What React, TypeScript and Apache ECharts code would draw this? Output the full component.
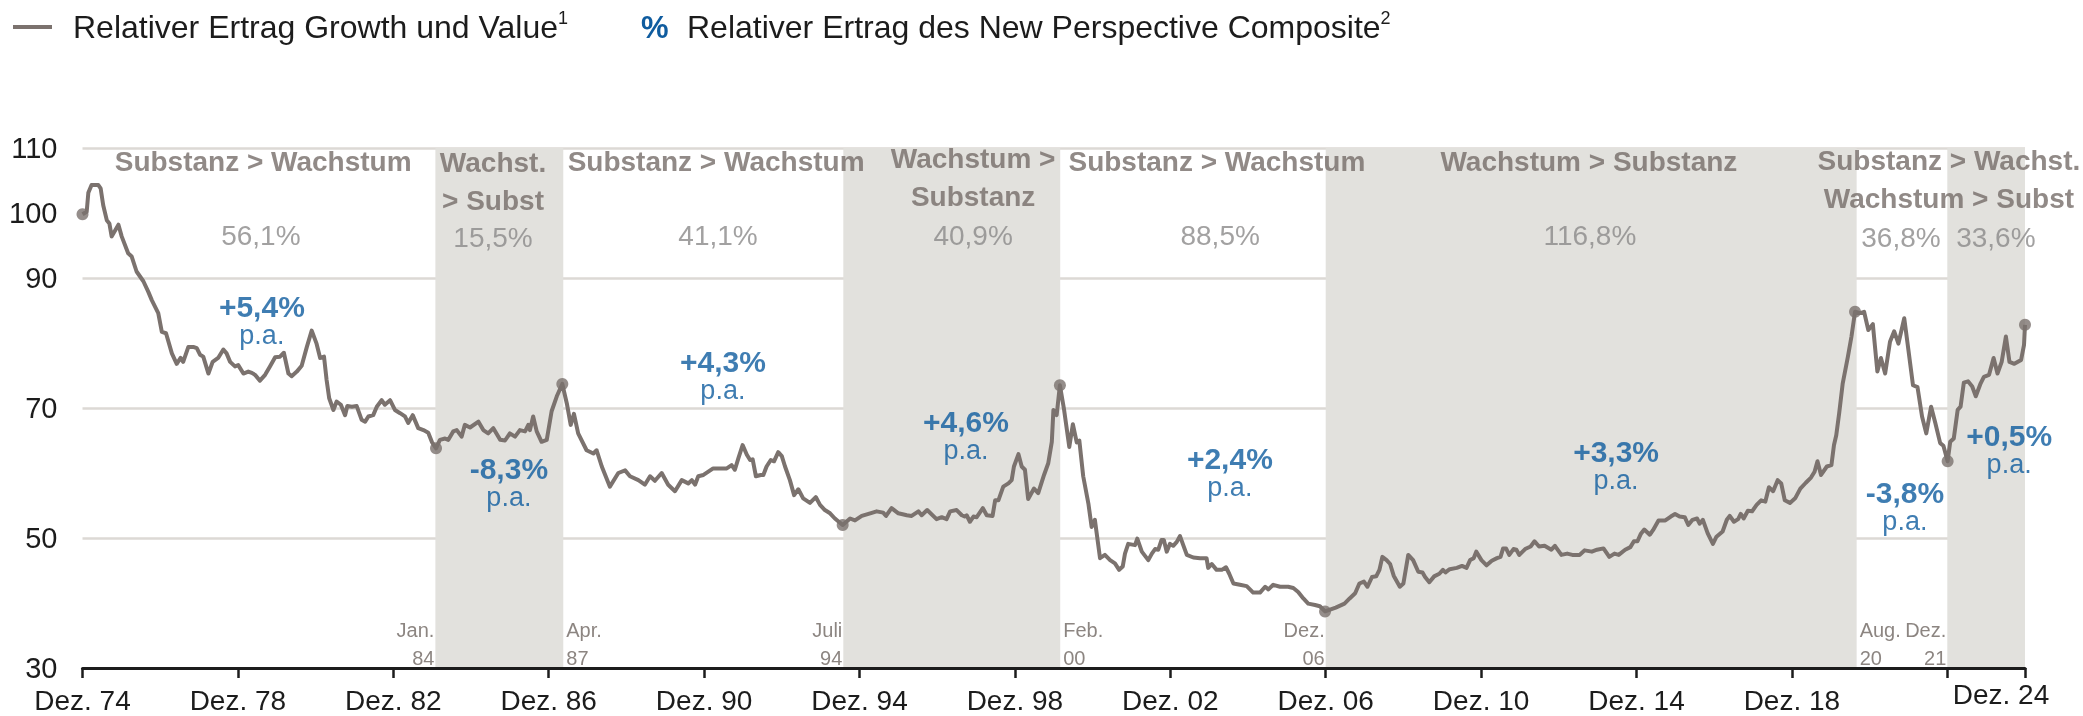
import React, { useEffect, useRef } from "react";
import * as echarts from "echarts";

const FONT = "'Liberation Sans', Arial, Helvetica, sans-serif";
const LINE = "#7b726e";
const SHADE = "#e2e1dd";
const GRIDC = "#dcd9d5";
const BLUE = "#0f5c9f";
const TAUPE = "#766d69";
const PCTGRAY = "#8b8989";
const INK = "#1c1c1c";

// x = months since Dez. 1974, y = relative return Growth vs Value (start = 100)
const seg1Months = [0, 1.3, 1.8, 2.8, 4.9, 5.6, 6.4, 7.5, 8.3, 9.0, 11.1, 12.1, 14.1, 15.2, 16.7, 18.8, 20.3, 21.4, 23.4, 24.5, 25.8, 27.6, 29.1, 30.3, 31.1, 32.7, 34.2, 35.3, 36.3, 37.3, 38.9, 40.2, 41.9, 43.5, 44.5, 45.6, 47.1, 48.1, 49.7, 51.2, 52.3, 53.3, 54.8, 56.4, 57.9, 59.5, 61.0, 62.2, 63.6, 64.6, 66.2, 67.7, 69.3, 70.8, 72.3, 73.4, 74.6, 75.4, 76.2, 77.5, 78.5, 79.8, 81.1, 81.8, 83.2, 84.7, 86.2, 87.3, 88.3, 89.8, 90.9, 92.4, 93.4, 95.0, 96.5, 98.1, 99.6, 100.6, 102.0, 103.7, 105.3, 106.8, 107.9, 109.2];
const seg1Values = [99.8, 100.2, 103.1, 104.3, 104.3, 103.8, 101.2, 98.9, 98.4, 96.4, 98.2, 96.4, 93.8, 93.3, 91.0, 89.5, 87.9, 86.6, 84.6, 81.7, 81.5, 78.4, 76.8, 77.7, 77.1, 79.4, 79.4, 79.2, 78.2, 77.9, 75.3, 77.1, 77.7, 79.0, 78.4, 77.1, 76.4, 76.6, 75.3, 75.6, 75.4, 75.1, 74.2, 75.1, 76.4, 77.8, 77.9, 78.5, 75.3, 74.9, 75.6, 76.5, 79.4, 81.9, 79.9, 77.7, 77.9, 74.3, 71.5, 69.7, 71.0, 70.5, 68.9, 70.3, 70.2, 70.3, 68.2, 67.9, 68.7, 68.9, 70.2, 71.2, 70.5, 71.2, 69.7, 69.2, 68.7, 67.7, 68.9, 66.9, 66.6, 66.2, 64.8, 63.8];

const seg2Months = [110.4, 112.0, 113.0, 114.5, 115.6, 117.1, 118.1, 119.7, 122.3, 123.8, 125.3, 126.9, 129.0, 130.5, 132.0, 133.6, 135.1, 136.7, 137.7, 138.2, 139.2, 140.3, 141.8, 143.4, 144.9, 146.5, 148.2];
const seg2Values = [65.1, 65.3, 65.1, 66.4, 66.6, 65.6, 67.4, 67.0, 67.9, 66.6, 66.1, 66.9, 65.1, 65.0, 66.1, 65.6, 66.6, 66.4, 67.4, 66.6, 68.7, 66.4, 64.8, 65.1, 69.5, 71.8, 73.7];

const seg3Months = [149.6, 150.8, 151.8, 153.1, 155.7, 157.8, 158.8, 160.4, 162.9, 165.5, 167.6, 169.1, 171.7, 173.7, 175.3, 176.8, 178.9, 180.9, 183.0, 185.1, 187.1, 188.2, 189.2, 190.2, 191.8, 193.3, 194.8, 196.9, 199.0, 200.5, 201.5, 202.6, 203.9, 205.2, 206.2, 207.0, 208.0, 209.5, 210.3, 211.3, 212.6, 213.6, 214.9, 216.0, 217.0, 218.5, 219.8, 221.1, 222.6, 224.7, 226.5, 227.8, 229.3, 230.9, 232.4, 234.8];
const seg3Values = [70.7, 67.4, 69.1, 66.1, 63.5, 63.0, 63.5, 61.0, 57.9, 60.0, 60.4, 59.5, 58.9, 58.2, 59.5, 58.8, 60.0, 58.2, 57.2, 58.9, 58.4, 58.9, 58.2, 59.5, 59.7, 60.2, 60.7, 60.7, 60.7, 61.2, 60.5, 62.3, 64.3, 62.8, 62.0, 62.1, 59.5, 59.7, 59.7, 61.0, 62.0, 61.8, 63.2, 62.6, 61.0, 58.9, 56.6, 57.5, 56.1, 55.4, 56.3, 55.1, 54.3, 53.8, 53.0, 52.0];

const seg4Months = [237.1, 238.6, 240.7, 243.3, 245.3, 247.3, 248.2, 249.9, 252.0, 254.6, 256.1, 258.2, 259.2, 260.9, 263.8, 265.4, 266.9, 268.0, 270.0, 271.6, 272.6, 273.1, 274.1, 275.2, 276.2, 278.1, 279.3, 281.1, 281.9, 282.9, 284.4, 286.0, 287.0, 287.7, 289.1, 290.1, 291.1, 292.1, 293.9, 295.2, 297.0, 298.3, 299.4, 299.9, 300.9, 301.9];
const seg4Values = [53.0, 52.7, 53.4, 53.8, 54.1, 53.9, 53.4, 54.6, 53.8, 53.5, 53.4, 54.1, 53.5, 54.3, 52.9, 53.2, 52.9, 54.1, 54.3, 53.5, 53.3, 53.5, 52.5, 53.3, 53.2, 54.6, 53.5, 53.4, 55.8, 55.8, 57.9, 58.4, 58.9, 61.0, 62.9, 61.0, 60.5, 56.0, 57.6, 56.9, 59.7, 61.5, 64.8, 69.7, 68.9, 73.5];

const seg5Months = [303.2, 304.8, 305.9, 307.1, 307.9, 309.1, 310.7, 311.7, 312.7, 314.3, 315.8, 317.4, 318.9, 320.2, 321.3, 322.0, 323.0, 325.1, 325.8, 327.2, 329.2, 330.3, 331.3, 332.3, 333.3, 334.0, 334.9, 335.9, 336.9, 338.0, 339.0, 340.0, 341.1, 343.1, 345.2, 347.2, 347.7, 348.8, 350.3, 351.9, 353.2, 354.2, 355.5, 357.5, 359.6, 361.6, 363.7, 365.3, 366.3, 367.8, 369.9, 372.4, 374.0, 375.5, 377.1, 378.6, 380.7, 382.2, 383.8];
const seg5Values = [69.7, 64.0, 67.5, 64.7, 65.0, 59.5, 55.3, 51.7, 52.8, 46.9, 47.4, 46.6, 46.1, 45.1, 45.6, 47.6, 49.1, 48.9, 49.9, 47.9, 46.6, 47.6, 48.3, 48.2, 49.7, 49.7, 47.9, 49.1, 48.8, 49.4, 50.3, 48.9, 47.4, 47.0, 46.9, 46.9, 45.4, 46.0, 45.1, 45.1, 45.5, 44.5, 43.0, 42.8, 42.6, 41.6, 41.6, 42.5, 42.1, 42.8, 42.5, 42.5, 42.3, 41.7, 40.7, 39.9, 39.7, 39.5, 38.7];

const seg6Months = [387.1, 389.8, 391.4, 393.1, 394.4, 395.8, 396.9, 398.3, 399.6, 400.6, 401.5, 402.8, 403.9, 405.0, 406.9, 408.0, 409.5, 411.0, 412.6, 413.9, 414.7, 416.0, 417.5, 419.1, 420.2, 421.0, 422.3, 424.5, 426.1, 427.5, 428.6, 429.7, 430.5, 432.1, 433.7, 435.3, 436.9, 438.0, 438.8, 439.7, 440.7, 442.0, 442.9, 443.8, 445.6, 447.3, 448.5, 449.9, 451.6, 453.7, 454.8, 456.8, 458.6, 460.2, 462.4, 464.0, 466.2, 467.8, 469.8, 471.6, 473.2, 474.5, 476.5, 478.1, 479.2, 480.3, 481.3, 482.4, 484.1, 485.1, 486.8, 488.9, 490.6, 491.9, 493.3, 494.9, 496.0, 497.3, 498.7, 499.5, 500.5, 502.0, 503.6, 504.7, 506.6, 507.9, 508.8, 510.1, 511.4, 512.2, 513.1, 514.4, 515.7, 517.1, 518.5, 519.8, 520.9, 522.2, 523.6, 524.7, 525.8, 527.4, 529.0, 530.6, 532.3, 533.9, 535.0, 535.9, 537.0, 538.8, 540.2, 541.0, 541.7, 542.6, 543.7, 545.3, 546.4, 547.5];
const seg6Values = [39.3, 39.9, 40.7, 41.5, 43.0, 43.3, 42.5, 44.0, 44.1, 45.1, 47.1, 46.6, 46.0, 44.2, 42.5, 43.0, 47.4, 46.6, 44.8, 44.7, 44.0, 43.2, 44.1, 44.5, 45.1, 44.7, 45.2, 45.4, 45.7, 45.4, 46.6, 46.9, 47.9, 46.6, 45.8, 46.5, 46.9, 47.1, 48.4, 48.4, 47.4, 48.3, 48.2, 47.4, 48.3, 48.7, 49.5, 48.7, 48.8, 48.2, 48.8, 47.4, 47.6, 47.4, 47.4, 48.1, 47.9, 48.2, 48.4, 47.1, 47.6, 47.4, 48.2, 48.6, 49.5, 49.5, 50.6, 51.3, 50.5, 51.2, 52.7, 52.7, 53.3, 53.7, 53.3, 53.2, 52.0, 52.8, 53.0, 52.2, 52.8, 50.7, 49.1, 50.2, 51.0, 52.8, 53.4, 52.5, 52.9, 53.7, 53.0, 54.2, 54.1, 55.1, 55.8, 55.6, 57.8, 57.2, 58.9, 58.4, 55.8, 55.4, 56.1, 57.6, 58.5, 59.3, 60.2, 61.8, 59.7, 61.0, 61.2, 64.3, 65.8, 69.2, 73.8, 77.9, 81.0, 84.8];

const seg7Months = [549.1, 550.3, 551.6, 553.0, 554.4, 555.5, 556.8, 558.3, 559.6, 560.9, 562.7, 564.0, 565.4, 566.8, 568.2, 569.5, 571.0, 572.3, 573.8, 574.8, 576.1];
const seg7Values = [84.6, 84.8, 82.0, 82.9, 75.6, 77.7, 75.3, 80.2, 81.8, 79.9, 83.8, 78.9, 73.5, 73.2, 68.7, 66.1, 70.2, 67.7, 64.6, 64.2, 61.8];

const seg8Months = [576.9, 578.0, 579.2, 580.1, 581.1, 582.4, 583.7, 584.8, 586.3, 587.3, 588.9, 590.3, 591.5, 592.8, 594.1, 595.2, 596.7, 598.8, 599.7, 600];
const seg8Values = [64.8, 65.3, 69.7, 70.2, 73.9, 74.1, 73.3, 71.8, 73.8, 74.8, 75.1, 77.7, 75.3, 77.1, 81.0, 77.1, 76.8, 77.4, 79.7, 82.8];

const segments: [number[], number[]][] = [
  [seg1Months, seg1Values],
  [seg2Months, seg2Values],
  [seg3Months, seg3Values],
  [seg4Months, seg4Values],
  [seg5Months, seg5Values],
  [seg6Months, seg6Values],
  [seg7Months, seg7Values],
  [seg8Months, seg8Values],
];

// regimes (months since Dez. 1974)
const regimeBounds = [0, 109, 148.5, 235, 302, 384, 548, 576, 600];
const growthLeads = [false, true, false, true, false, true, false, true];
const cumulativeReturns = ["56,1%", "15,5%", "41,1%", "40,9%", "88,5%", "116,8%", "36,8%", "33,6%"];
const annualReturns = ["+5,4%", "-8,3%", "+4,3%", "+4,6%", "+2,4%", "+3,3%", "-3,8%", "+0,5%"];
const boundaryLabels = ["Jan.\n84", "Apr.\n87", "Juli\n94", "Feb.\n00", "Dez.\n06", "Aug.\n20", "Dez.\n21"];
const regimeTitles = [
  "Substanz > Wachstum",
  "Wachst.\n> Subst",
  "Substanz > Wachstum",
  "Wachstum >\nSubstanz",
  "Substanz > Wachstum",
  "Wachstum > Substanz",
  "Substanz > Wachst.\nWachstum > Subst",
];

// annotation anchors in data coordinates [month, value]
const titleAnchors = [[55.8, 107.85], [126.8, 104.8], [195.7, 107.85], [275.1, 105.5], [350.4, 107.85], [465.3, 108.0], [576.5, 105.1]];
const cumulativeAnchors = [[55.1, 96.6], [126.8, 96.3], [196.3, 96.6], [275.1, 96.6], [351.4, 96.6], [465.6, 96.6], [561.7, 96.2], [591, 96.2]];
const annualAnchors = [[55.4, 83.6], [131.7, 58.6], [197.8, 75.1], [272.9, 65.8], [354.4, 60.1], [473.7, 61.3], [562.9, 55.0], [595.1, 63.7]];
const boundaryLabelValue = 33.7;

const gridValues = [50, 70, 90, 110];
const yLabelValues = [30, 50, 70, 90, 100, 110];

const legendSeriesName = "Relativer Ertrag Growth und Value";
const legendCompositeName = "Relativer Ertrag des New Perspective Composite";

function buildOption() {
  const lineData: number[][] = [];
  segments.forEach(([ms, vs]) => ms.forEach((m, i) => lineData.push([m, vs[i]])));

  const dots: number[][] = [[segments[0][0][0], segments[0][1][0]]];
  segments.forEach(([ms, vs]) => dots.push([ms[ms.length - 1], vs[vs.length - 1]]));

  const shaded: any[] = [];
  growthLeads.forEach((g, i) => {
    if (g) shaded.push([{ xAxis: regimeBounds[i], yAxis: 110.45 }, { xAxis: regimeBounds[i + 1], yAxis: 30 }]);
  });

  const hidden = { color: "rgba(0,0,0,0)" };
  const labelSeries = (z: number, data: any[], label: any) => ({
    type: "scatter",
    silent: true,
    z,
    symbolSize: 1,
    itemStyle: hidden,
    label: { show: true, position: "inside", fontFamily: FONT, ...label },
    data,
  });

  const titleData = regimeTitles.map((t, i) => ({ value: titleAnchors[i], label: { formatter: t } }));
  const cumData = cumulativeReturns.map((t, i) => ({ value: cumulativeAnchors[i], label: { formatter: t } }));
  const annData = annualReturns.map((t, i) => ({
    value: annualAnchors[i],
    label: { formatter: `{pct|${t}}\n{pa|p.a.}` },
  }));
  const bndData = boundaryLabels.map((t, i) => {
    const startOfShade = growthLeads[i + 1];
    return {
      value: [regimeBounds[i + 1], boundaryLabelValue],
      label: { formatter: t, align: startOfShade ? "right" : "left", offset: [startOfShade ? -1 : 3, 0] },
    };
  });

  return {
    animation: false,
    grid: { left: 82.5, right: 58, top: 148, bottom: 48, containLabel: false, outerBoundsMode: "none" },
    xAxis: {
      type: "value",
      min: 0,
      max: 600,
      interval: 48,
      z: 3,
      axisLine: { show: true, lineStyle: { color: INK, width: 3 } },
      axisTick: { show: true, length: 10, lineStyle: { color: INK, width: 2.5 } },
      splitLine: { show: false },
      axisLabel: {
        margin: 18,
        fontFamily: FONT,
        fontSize: 28,
        lineHeight: 28,
        color: INK,
        formatter: (v: number) => {
          if (v === 576) return "";
          const yy = String((74 + Math.round(v / 12)) % 100).padStart(2, "0");
          if (v === 600) return `{r|Dez. ${yy}}`;
          return `Dez. ${yy}`;
        },
        rich: { r: { fontFamily: FONT, fontSize: 28, color: INK, lineHeight: 16, padding: [0, 48, 0, 0] } },
      },
    },
    yAxis: {
      type: "value",
      min: 30,
      max: 110,
      interval: 10,
      axisLine: { show: false },
      axisTick: { show: false },
      splitLine: { show: false },
      axisLabel: {
        margin: 25,
        fontFamily: FONT,
        fontSize: 29,
        color: INK,
        formatter: (v: number) => (yLabelValues.includes(v) ? String(v) : ""),
      },
    },
    graphic: [
      { type: "line", silent: true, shape: { x1: 13, y1: 27, x2: 52, y2: 27 }, style: { stroke: LINE, lineWidth: 4 } },
      {
        type: "text",
        x: 73,
        y: 27,
        silent: true,
        style: {
          text: `{t|${legendSeriesName}}{s|1}`,
          verticalAlign: "middle",
          fill: INK,
          rich: {
            t: { fontFamily: FONT, fontSize: 32, lineHeight: 36, fill: INK },
            s: { fontFamily: FONT, fontSize: 18, lineHeight: 20, verticalAlign: "top", fill: INK },
          },
        },
      },
      {
        type: "text",
        x: 641,
        y: 27,
        silent: true,
        style: { text: "%", fontFamily: FONT, fontSize: 31, fontWeight: "bold", fill: BLUE, verticalAlign: "middle" },
      },
      {
        type: "text",
        x: 687,
        y: 27,
        silent: true,
        style: {
          text: `{t|${legendCompositeName}}{s|2}`,
          verticalAlign: "middle",
          fill: INK,
          rich: {
            t: { fontFamily: FONT, fontSize: 32, lineHeight: 36, fill: INK },
            s: { fontFamily: FONT, fontSize: 18, lineHeight: 20, verticalAlign: "top", fill: INK },
          },
        },
      },
    ],
    series: [
      {
        type: "line",
        name: legendSeriesName,
        z: 2,
        clip: false,
        showSymbol: false,
        symbol: "none",
        data: lineData,
        lineStyle: { color: LINE, width: 4, join: "round" },
        markArea: { silent: true, z: 1, itemStyle: { color: SHADE }, data: shaded },
        markLine: {
          silent: true,
          z: 0,
          symbol: ["none", "none"],
          label: { show: false },
          lineStyle: { color: GRIDC, width: 2.5, type: "solid" },
          data: gridValues.map((v) => ({ yAxis: v })),
        },
      },
      {
        type: "scatter",
        silent: true,
        z: 4,
        symbolSize: 12,
        itemStyle: { color: LINE },
        data: dots,
      },
      labelSeries(5, titleData, { fontSize: 28, fontWeight: "bold", color: TAUPE, lineHeight: 38, align: "center" }),
      labelSeries(5, cumData, { fontSize: 28, color: PCTGRAY, align: "center" }),
      labelSeries(5, annData, {
        align: "center",
        rich: {
          pct: { fontFamily: FONT, fontSize: 30, fontWeight: "bold", color: BLUE, lineHeight: 30 },
          pa: { fontFamily: FONT, fontSize: 27, color: BLUE, lineHeight: 27 },
        },
      }),
      labelSeries(5, bndData, { fontSize: 20, color: "#6f6661", lineHeight: 28 }),
    ],
  };
}

export default function App() {
  const ref = useRef<HTMLDivElement>(null);
  useEffect(() => {
    document.body.style.margin = "0";
    document.documentElement.style.overflow = "hidden";
    const chart = echarts.init(ref.current as HTMLDivElement, undefined, { renderer: "svg" });
    chart.setOption(buildOption() as any);
    return () => chart.dispose();
  }, []);
  return <div ref={ref} style={{ position: "fixed", left: 0, top: 0, width: 2083, height: 716 }} />;
}
